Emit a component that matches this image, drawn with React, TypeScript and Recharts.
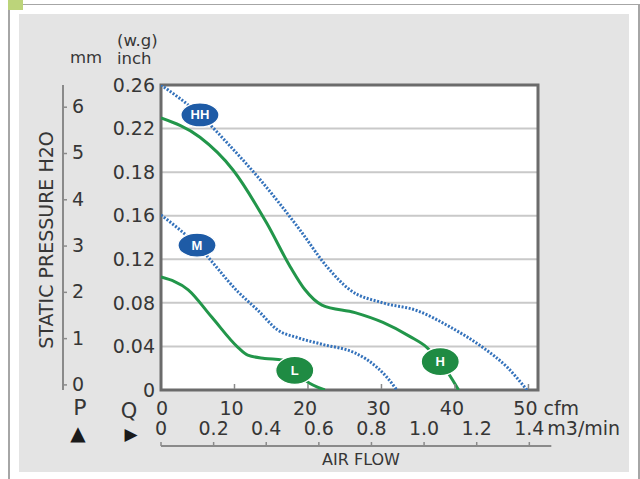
import React from 'react';
import {
  ComposedChart,
  Line,
  XAxis,
  YAxis,
  CartesianGrid,
  ReferenceArea,
  ReferenceDot,
} from 'recharts';

// ---------- data ----------
// Air flow in cfm; static pressure on the chart's (linear) inch grid, 0.04 per gridline
const hhFlow = [0, 5.3, 9.4, 13.5, 18.9, 22.6, 25.7, 30.2, 34.8, 39.3, 43.8, 47.1, 49.8];
const hhPressure = [0.28, 0.2525, 0.224, 0.193, 0.147, 0.113, 0.092, 0.08, 0.073, 0.058, 0.039, 0.021, 0];
const hFlow = [0, 5.3, 9.8, 14.4, 17.6, 19.6, 21.9, 26.4, 30.2, 33.9, 36.2, 38.0, 40.5];
const hPressure = [0.2497, 0.232, 0.202, 0.153, 0.113, 0.092, 0.078, 0.071, 0.062, 0.049, 0.039, 0.026, 0];
const mFlow = [0, 4.9, 10.5, 13.2, 15.9, 18.6, 21.9, 26.4, 28.0, 30.7, 32.1];
const mPressure = [0.1607, 0.133, 0.09, 0.073, 0.055, 0.048, 0.042, 0.034, 0.028, 0.012, 0];
const lFlow = [0, 3.7, 6.9, 10.5, 11.8, 14.1, 16.5, 18.2, 19.6, 22.3];
const lPressure = [0.1037, 0.092, 0.067, 0.039, 0.032, 0.029, 0.0275, 0.018, 0.009, 0];

// index of the point that carries each curve's badge
const hhLabelIdx = 1;
const hLabelIdx = 11;
const mLabelIdx = 1;
const lLabelIdx = 7;

// axes
const cfmTicks = [0, 10, 20, 30, 40, 50];
const m3Ticks = [0, 0.2, 0.4, 0.6, 0.8, 1.0, 1.2, 1.4];
const m3Labels = ['0', '0.2', '0.4', '0.6', '0.8', '1.0', '1.2', '1.4'];
const inchTicks = [0, 0.04, 0.08, 0.12, 0.16, 0.2, 0.24, 0.28];
const inchLabels = ['0', '0.04', '0.08', '0.12', '0.16', '0.18', '0.22', '0.26']; // as printed
const mmTicks = [0, 1, 2, 3, 4, 5, 6];

const toRows = (flow: number[], pressure: number[]) =>
  flow.map((q, i) => ({ q, p: pressure[i] }));

const hhData = toRows(hhFlow, hhPressure);
const hData = toRows(hFlow, hPressure);
const mData = toRows(mFlow, mPressure);
const lData = toRows(lFlow, lPressure);
// chart-level rows so the m3/min axis has values of its own
const m3Rows = m3Ticks.map((m) => ({ m }));

const FONT = '"DejaVu Sans", Verdana, sans-serif';
const TXT = '#363636';
const GREEN = '#22964a';
const GREEN_BADGE = '#1f8b43';
const BLUE = '#3472bb';
const BLUE_BADGE = '#1e5ba6';

const CfmTick = (props: any) => {
  const { x, y, payload } = props;
  const v = payload.value;
  const tx = v === 0 ? x + 1 : x - 3;
  return (
    <g>
      {v !== 0 && <line x1={x} y1={y - 1} x2={x} y2={y - 6} stroke="#8a8a8a" strokeWidth={1.5} />}
      <text x={tx} y={y + 25} textAnchor="middle" fontFamily={FONT} fontSize={19} fill={TXT}>
        {String(v)}
      </text>
      {v === 50 && (
        <text x={x + 15} y={y + 25} textAnchor="start" fontFamily={FONT} fontSize={19} fill={TXT}>
          cfm
        </text>
      )}
    </g>
  );
};

const M3Tick = (props: any) => {
  const { x, y, payload } = props;
  const idx = m3Ticks.indexOf(payload.value);
  const last = idx === m3Ticks.length - 1;
  return (
    <g>
      <line x1={x} y1={y} x2={x} y2={y - 4} stroke="#8a8a8a" strokeWidth={1.5} />
      <text x={x} y={y - 11} textAnchor="middle" fontFamily={FONT} fontSize={19} fill={TXT}>
        {idx >= 0 ? m3Labels[idx] : String(payload.value)}
      </text>
      {last && (
        <g>
          <line x1={x} y1={y} x2={x + 22} y2={y} stroke="#8a8a8a" strokeWidth={2} />
          <text x={x + 18} y={y - 11} textAnchor="start" fontFamily={FONT} fontSize={19} fill={TXT}>
            m3/min
          </text>
        </g>
      )}
    </g>
  );
};

const MmTick = (props: any) => {
  const { x, y, payload } = props;
  return (
    <g>
      <line x1={x} y1={y} x2={x + 4} y2={y} stroke="#8a8a8a" strokeWidth={1.5} />
      <text x={x + 9} y={y + 6} textAnchor="start" fontFamily={FONT} fontSize={19} fill={TXT}>
        {String(payload.value)}
      </text>
    </g>
  );
};

const badge = (text: string, fill: string, ry: number) => (p: any) => (
  <g>
    <ellipse cx={p.cx} cy={p.cy} rx={19} ry={ry} fill={fill} stroke="#ffffff" strokeWidth={1.2} />
    <text
      x={p.cx}
      y={p.cy + 4.5}
      textAnchor="middle"
      fontFamily='"Liberation Sans", Arial, sans-serif'
      fontWeight="bold"
      fontSize={13}
      fill="#ffffff"
    >
      {text}
    </text>
  </g>
);

const PressureTitle = () => {
  const cx = 45.5;
  const cy = 240;
  return (
    <text
      x={cx}
      y={cy}
      transform={`rotate(-90 ${cx} ${cy})`}
      textAnchor="middle"
      dominantBaseline="central"
      fontFamily={FONT}
      fontSize={19}
      fill={TXT}
    >
      STATIC PRESSURE H2O
    </text>
  );
};

const UnitsTitle = (props: any) => {
  const vb = props.viewBox || { x: 63, y: 85 };
  const ox = vb.x;
  const oy = vb.y;
  return (
    <g fontFamily={FONT} fill={TXT}>
      <text x={ox + 7} y={oy - 22} fontSize={16.5}>mm</text>
      <text x={ox + 54} y={oy - 39} fontSize={16.5}>(w.g)</text>
      <text x={ox + 54} y={oy - 21} fontSize={16.5}>inch</text>
    </g>
  );
};

const PQTitle = (props: any) => {
  const vb = props.viewBox || { x: 161, y: 390 };
  const ox = vb.x;
  const oy = vb.y;
  return (
    <g fontFamily={FONT} fill={TXT}>
      <text x={ox - 81} y={oy + 25} fontSize={22} textAnchor="middle">P</text>
      <text x={ox - 83} y={oy + 50} fontSize={20} textAnchor="middle" fill="#1a1a1a">▲</text>
      <text x={ox - 32} y={oy + 28} fontSize={21} textAnchor="middle">Q</text>
      <text x={ox - 30} y={oy + 50} fontSize={17} textAnchor="middle" fill="#1a1a1a">▶</text>
    </g>
  );
};

const AirFlowTitle = (props: any) => {
  const vb = props.viewBox || { x: 161, y: 446 };
  return (
    <text x={361} y={vb.y + 19} textAnchor="middle" fontFamily={FONT} fontSize={16} fill={TXT}>
      AIR FLOW
    </text>
  );
};

export default function App() {
  return (
    <div style={{ position: 'absolute', left: 0, top: 0, width: 640, height: 479, background: '#ffffff', overflow: 'hidden' }}>
      <div
        style={{
          position: 'absolute',
          left: 8,
          top: 4,
          width: 632,
          height: 475,
          borderLeft: '2px solid #a6a6a6',
          borderTop: '1px solid #a6a6a6',
          borderRight: '2px solid #a6a6a6',
          boxSizing: 'border-box',
        }}
      />
      <div style={{ position: 'absolute', left: 8, top: 0, width: 15, height: 10, background: '#bcd47a' }} />
      <div style={{ position: 'absolute', left: 19, top: 14, width: 610, height: 458, background: '#e4e4e4' }} />
      <div style={{ position: 'absolute', left: 0, top: 0 }}>
        <ComposedChart width={640} height={479} data={m3Rows} margin={{ top: 85, right: 102, bottom: 3, left: 23 }}>
          <CartesianGrid xAxisId="cfm" yAxisId="inch" vertical={false} stroke="#c9c9c9" strokeWidth={2} fill="#ffffff" />
          <XAxis
            xAxisId="cfm"
            type="number"
            dataKey="q"
            domain={[0, 51.3]}
            allowDataOverflow
            ticks={cfmTicks}
            height={56}
            tickSize={0}
            tickMargin={0}
            axisLine={false}
            tickLine={false}
            tick={(p: any) => <CfmTick {...p} />}
            label={(p: any) => <PQTitle {...p} />}
          />
          <XAxis
            xAxisId="m3"
            type="number"
            dataKey="m"
            domain={[0, 1.433]}
            allowDataOverflow
            ticks={m3Ticks}
            interval={0}
            height={30}
            tickSize={0}
            tickMargin={0}
            axisLine={{ stroke: '#8a8a8a', strokeWidth: 2 }}
            tickLine={false}
            tick={(p: any) => <M3Tick {...p} />}
            label={(p: any) => <AirFlowTitle {...p} />}
          />
          <YAxis
            yAxisId="inch"
            type="number"
            domain={[0, 0.28]}
            allowDataOverflow
            ticks={inchTicks}
            interval={0}
            width={98}
            tickSize={0}
            tickMargin={6}
            axisLine={false}
            tickLine={false}
            tickFormatter={(v: number, i: number) => inchLabels[i]}
            tick={{ fontFamily: FONT, fontSize: 19, fill: TXT }}
            label={(p: any) => <UnitsTitle {...p} />}
          />
          <YAxis
            yAxisId="mm"
            type="number"
            domain={[-0.11, 6.48]}
            allowDataOverflow
            ticks={mmTicks}
            interval={0}
            width={40}
            tickSize={0}
            tickMargin={0}
            axisLine={{ stroke: '#8a8a8a', strokeWidth: 2 }}
            tickLine={false}
            tick={(p: any) => <MmTick {...p} />}
            label={() => <PressureTitle />}
          />
          <Line xAxisId="cfm" yAxisId="inch" data={hhData} dataKey="p" type="monotone" stroke={BLUE} strokeWidth={3} strokeDasharray="2 1.6" dot={false} isAnimationActive={false} />
          <Line xAxisId="cfm" yAxisId="inch" data={hData} dataKey="p" type="monotone" stroke={GREEN} strokeWidth={3} dot={false} isAnimationActive={false} />
          <Line xAxisId="cfm" yAxisId="inch" data={mData} dataKey="p" type="monotone" stroke={BLUE} strokeWidth={3} strokeDasharray="2 1.6" dot={false} isAnimationActive={false} />
          <Line xAxisId="cfm" yAxisId="inch" data={lData} dataKey="p" type="monotone" stroke={GREEN} strokeWidth={3} dot={false} isAnimationActive={false} />
          <ReferenceArea xAxisId="cfm" yAxisId="inch" x1={0} x2={51.3} y1={0} y2={0.28} fill="none" stroke="#6b6b6b" strokeWidth={3} ifOverflow="visible" />
          <ReferenceDot xAxisId="cfm" yAxisId="inch" x={hhFlow[hhLabelIdx]} y={hhPressure[hhLabelIdx]} shape={badge('HH', BLUE_BADGE, 12)} ifOverflow="visible" />
          <ReferenceDot xAxisId="cfm" yAxisId="inch" x={mFlow[mLabelIdx]} y={mPressure[mLabelIdx]} shape={badge('M', BLUE_BADGE, 12)} ifOverflow="visible" />
          <ReferenceDot xAxisId="cfm" yAxisId="inch" x={hFlow[hLabelIdx]} y={hPressure[hLabelIdx]} shape={badge('H', GREEN_BADGE, 14)} ifOverflow="visible" />
          <ReferenceDot xAxisId="cfm" yAxisId="inch" x={lFlow[lLabelIdx]} y={lPressure[lLabelIdx]} shape={badge('L', GREEN_BADGE, 14)} ifOverflow="visible" />
        </ComposedChart>
      </div>
    </div>
  );
}
